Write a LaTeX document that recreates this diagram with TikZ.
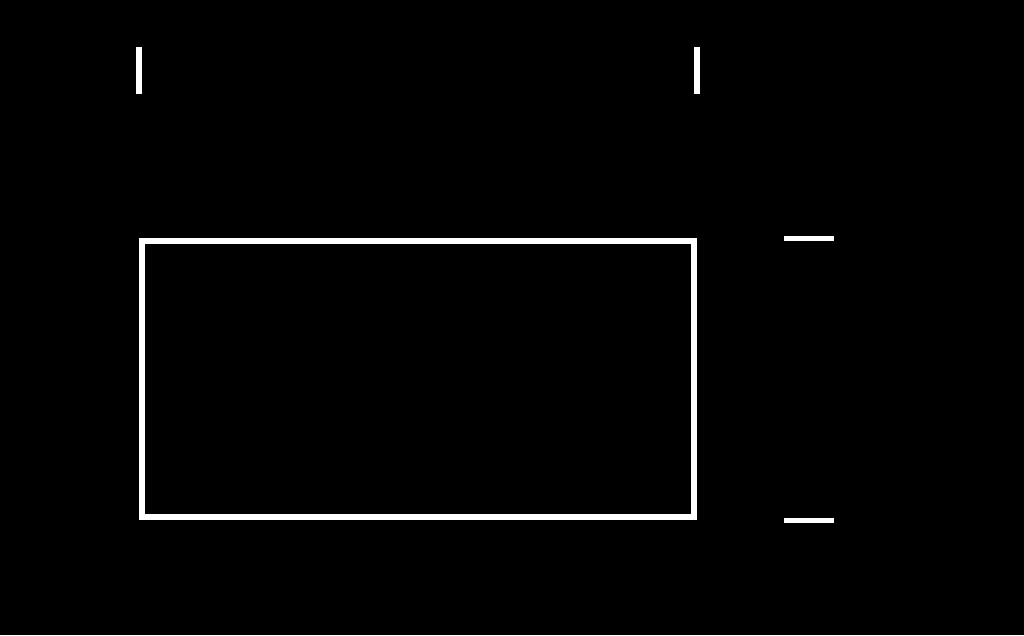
\documentclass[tikz,border=0pt]{standalone}
\usepackage{tikz}
\usetikzlibrary{positioning}

\begin{document}
\begin{tikzpicture}[x=1pt, y=-1pt]
                        \fill[black] (0, 0) rectangle (1024, 635);
                        \useasboundingbox (0, 0) rectangle (1024, 635);

                        \node[draw=white, line width=6.5pt, minimum width=552pt, minimum height=276pt, inner sep=0pt] (box) at (418, 379) {};

                        \coordinate (tl1) at (139, 47);
                        \coordinate (tl2) at (139, 94);
                        \coordinate (tr1) at (697, 47);
                        \coordinate (tr2) at (697, 94);
                        \coordinate (rt1) at (784, 238);
                        \coordinate (rt2) at (834, 238);
                        \coordinate (rb1) at (784, 520.5);
                        \coordinate (rb2) at (834, 520.5);

                        \draw[white, line width=5.5pt]
                        (tl1) -- (tl2)
                        (tr1) -- (tr2);
                        \draw[white, line width=5pt]
                        (rt1) -- (rt2)
                        (rb1) -- (rb2);
                    \end{tikzpicture}
\end{document}
